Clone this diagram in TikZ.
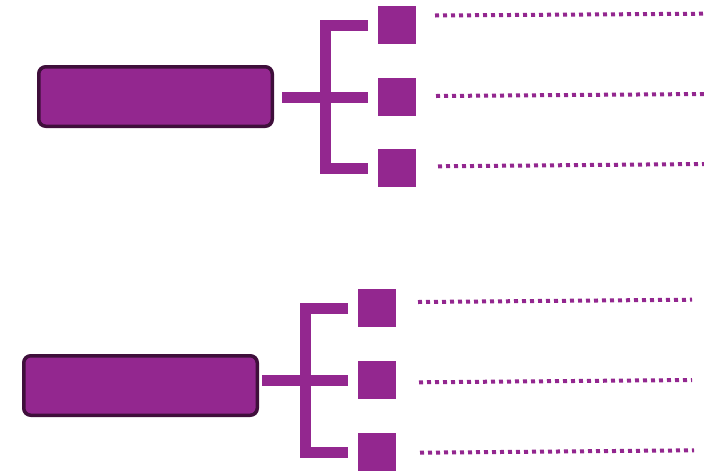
\documentclass[tikz,border=0pt]{standalone}
\usepackage{tikz}
\definecolor{plum}{HTML}{93278F}
\definecolor{darkplum}{HTML}{3F0F3B}

\begin{document}
\begin{tikzpicture}[x=1pt, y=-1pt,
  every node/.style={inner sep=0pt, outer sep=0pt},
  bigbox/.style={fill=plum, draw=darkplum, line width=3.5pt, rounded corners=7pt, minimum width=233.5pt, minimum height=59.5pt},
  smallbox/.style={fill=plum, minimum size=38pt},
  bracket/.style={draw=plum, line width=11pt},
  dotline/.style={draw=plum, line width=4pt, dash pattern=on 4pt off 4pt}]
\useasboundingbox (0,0) rectangle (704,472);

\node[bigbox] (topbox) at (155.5,96.5) {};
\node[smallbox] (a1) at (397,25) {};
\node[smallbox] (a2) at (397,97) {};
\node[smallbox] (a3) at (397,168) {};

\node[bigbox] (bottombox) at (140.5,385.5) {};
\node[smallbox] (b1) at (377,308) {};
\node[smallbox] (b2) at (377,380) {};
\node[smallbox] (b3) at (377,452) {};

\draw[bracket] ([xshift=10pt]topbox.east |- a2.west) -- ([xshift=-10pt]a2.west);
\draw[bracket] ([xshift=-10pt]a1.west) -- ++(-42.5,0) |- ([xshift=-10pt]a3.west);
\draw[bracket] ([xshift=5pt]bottombox.east |- b2.west) -- ([xshift=-10pt]b2.west);
\draw[bracket] ([xshift=-10pt]b1.west) -- ++(-42.5,0) |- ([xshift=-10pt]b3.west);

\coordinate (a1end) at (704,13.7);
\coordinate (a2end) at (704,94);
\coordinate (a3end) at (704,164);
\coordinate (b1end) at (692,299.7);
\coordinate (b2end) at (692,380);
\coordinate (b3end) at (694,450.3);

\draw[dotline] ([xshift=19pt,yshift=9.5pt]a1.east) -- (a1end);
\draw[dotline] ([xshift=20pt,yshift=1pt]a2.east) -- (a2end);
\draw[dotline] ([xshift=22pt,yshift=1.7pt]a3.east) -- (a3end);
\draw[dotline] ([xshift=22pt,yshift=6pt]b1.east) -- (b1end);
\draw[dotline] ([xshift=23pt,yshift=-2.3pt]b2.east) -- (b2end);
\draw[dotline] ([xshift=24pt,yshift=-0.7pt]b3.east) -- (b3end);
\end{tikzpicture}
\end{document}
